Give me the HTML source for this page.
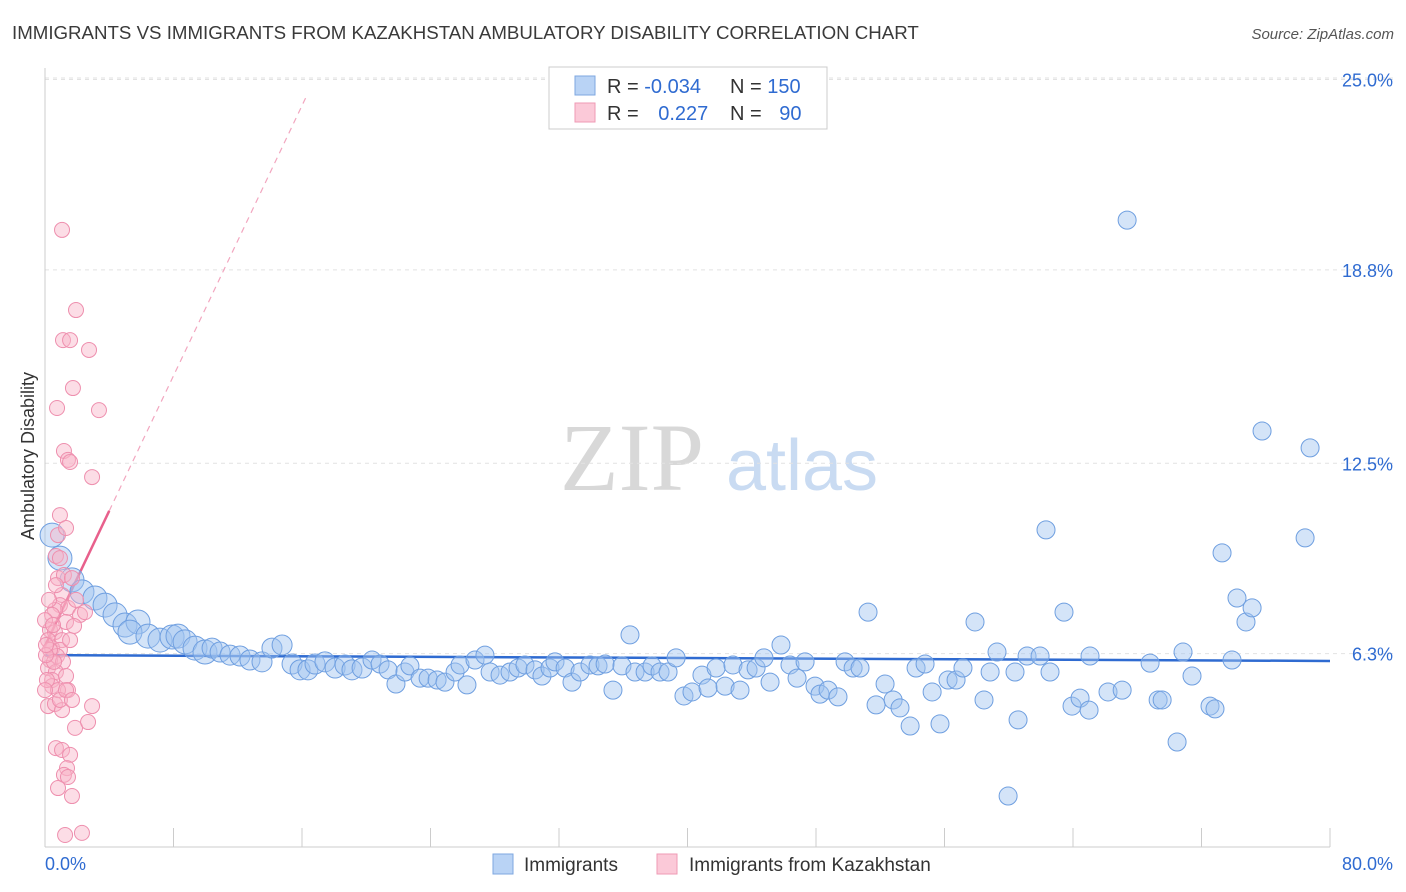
<!DOCTYPE html>
<html><head><meta charset="utf-8"><style>
body{margin:0;background:#fff;font-family:"Liberation Sans",sans-serif;}
svg{display:block}
</style></head><body>
<svg id="chart" width="1406" height="892" xmlns="http://www.w3.org/2000/svg">
<text x="12" y="39" font-size="18.7" fill="#3a3a3a" font-family="Liberation Sans, sans-serif">IMMIGRANTS VS IMMIGRANTS FROM KAZAKHSTAN AMBULATORY DISABILITY CORRELATION CHART</text>
<text x="1394" y="39" font-size="15" fill="#555" font-style="italic" text-anchor="end">Source: ZipAtlas.com</text>
<g>
<text x="632" y="490" font-size="96" fill="#d8d8d8" font-family="Liberation Serif, serif" text-anchor="middle">ZIP</text>
<text x="802" y="490" font-size="72" fill="#c9dbf2" text-anchor="middle">atlas</text>
</g>
<g id="grid"></g>
<g id="axes"></g>
<g id="trends"></g>
<g id="blue"></g>
<g id="pink"></g>
<text transform="translate(34,456) rotate(-90)" font-size="18" fill="#333" text-anchor="middle">Ambulatory Disability</text>
<g>
<rect x="549" y="67" width="278" height="62" fill="#fff" stroke="#ccc"/>
<rect x="575" y="76" width="20" height="19" fill="#b9d3f5" stroke="#7ea7e0"/>
<rect x="575" y="103" width="20" height="19" fill="#fbc9d8" stroke="#ef9ab4"/>
<text x="607" y="93" font-size="20" fill="#333">R = <tspan fill="#2f6bd1">-0.034</tspan></text>
<text x="730" y="93" font-size="20" fill="#333">N = <tspan fill="#2f6bd1">150</tspan></text>
<text x="607" y="120" font-size="20" fill="#333">R = <tspan fill="#2f6bd1" dx="14">0.227</tspan></text>
<text x="730" y="120" font-size="20" fill="#333">N = <tspan fill="#2f6bd1" dx="12">90</tspan></text>
</g>
<g>
<rect x="493" y="854" width="20" height="20" fill="#b9d3f5" stroke="#7ea7e0"/>
<text x="524" y="871" font-size="19" fill="#333">Immigrants</text>
<rect x="657" y="854" width="20" height="20" fill="#fbc9d8" stroke="#ef9ab4"/>
<text x="689" y="871" font-size="19" fill="#333">Immigrants from Kazakhstan</text>
</g>
</svg>
<script>
const yTicks=[6.3,12.5,18.8,25.0];
const yTickLabels=["6.3%","12.5%","18.8%","25.0%"];
const xTickLabels=["0.0%","80.0%"];
const blueX=[.44,.93,1.68,2.30,3.11,3.74,4.36,4.98,5.79,5.29,6.41,7.16,7.91,8.28,8.72,9.34,9.96,10.40,10.90,11.52,12.14,12.76,13.51,14.13,14.76,15.38,15.88,16.37,16.81,17.43,18.06,18.68,19.11,19.74,20.36,20.86,21.36,21.85,22.41,22.72,23.35,23.85,24.41,24.90,25.53,25.84,26.27,26.77,27.39,27.71,28.33,28.95,29.45,29.88,30.51,30.94,31.44,31.75,32.38,32.81,33.31,33.93,34.43,34.87,35.36,35.92,36.42,36.73,37.36,37.79,38.29,38.79,39.29,39.78,40.28,40.90,41.28,41.78,42.34,42.83,43.27,43.77,44.27,44.76,45.14,45.82,46.38,46.82,47.32,47.94,48.25,48.75,49.37,49.81,50.31,50.74,51.24,51.74,52.30,52.80,53.23,53.86,54.23,54.79,55.23,55.72,56.22,56.72,57.15,57.90,58.46,58.84,59.27,59.96,60.39,60.58,61.14,61.95,62.32,62.57,63.44,63.94,64.44,65.00,65.06,66.18,67.06,67.37,68.80,69.30,69.55,70.48,70.85,71.41,72.53,72.84,73.28,73.90,74.21,74.77,75.15,75.77,78.45,78.76];
const blueY=[10.16,9.41,8.70,8.31,8.11,7.88,7.56,7.23,7.33,7.00,6.87,6.74,6.84,6.87,6.68,6.48,6.35,6.48,6.35,6.25,6.22,6.09,6.03,6.48,6.58,5.96,5.77,5.77,5.96,6.03,5.83,5.93,5.77,5.83,6.09,5.96,5.77,5.31,5.70,5.90,5.50,5.50,5.44,5.37,5.70,5.93,5.28,6.09,6.25,5.70,5.60,5.70,5.83,5.93,5.77,5.57,5.83,6.03,5.83,5.37,5.70,5.93,5.90,5.96,5.11,5.90,6.91,5.70,5.70,5.90,5.70,5.70,6.16,4.92,5.05,5.60,5.18,5.83,5.24,5.93,5.11,5.77,5.83,6.16,5.37,6.58,5.93,5.50,6.03,5.24,4.98,5.11,4.89,6.03,5.83,5.83,7.65,4.63,5.31,4.79,4.53,3.94,5.83,5.96,5.05,4.01,5.44,5.44,5.83,7.33,4.79,5.70,6.35,1.66,5.70,4.14,6.22,6.22,10.33,5.70,7.65,4.59,4.85,4.46,6.22,5.05,5.11,20.42,5.99,4.79,4.79,3.42,6.35,5.57,4.59,4.50,9.58,6.09,8.11,7.33,7.79,13.55,10.07,13.00];
const pinkX=[1.06,1.93,1.12,1.56,2.74,1.74,.75,3.36,1.18,1.43,1.56,2.93,.93,.81,.68,.81,1.18,1.68,1.06,.93,1.43,.62,.44,2.18,1.31,1.81,.31,.62,.19,1.06,.44,.93,.75,.31,1.12,.19,.68,.44,1.31,1.43,.44,.19,.62,1.06,2.93,1.87,2.68,.68,1.06,1.56,1.37,1.18,1.43,.81,1.68,1.25,2.30,.31,.56,.06,.12,.81,.93,0,.06,.5,.25,0,.93,1.31,.68,1.56,1.93,2.49,1.31,1.68];
const pinkY=[20.10,17.49,16.51,16.51,16.19,14.95,14.30,14.23,12.90,12.61,12.54,12.05,10.81,10.16,9.48,8.76,8.86,8.76,8.21,7.88,7.79,7.72,7.56,7.56,7.33,7.20,7.07,7.00,6.74,6.74,6.48,6.42,6.22,6.09,6.03,5.83,5.70,5.44,5.57,5.11,5.24,4.59,4.66,4.46,4.59,3.88,4.07,3.22,3.16,3.00,2.57,2.35,2.28,1.92,1.66,.39,.46,6.42,6.03,6.25,5.44,5.11,4.79,7.39,6.58,7.23,8.05,5.11,9.41,10.39,8.53,6.74,8.05,7.65,5.11,4.79];
const blueTrend=[6.25,6.06];
const pinkTrend={intercept:6.55,slope:1.1,solidEnd:4,dashEnd:16.3};
const NS="http://www.w3.org/2000/svg";
const X=v=>45+v/80*1285, Y=v=>847-v*30.7;
function mk(tag,parent,attrs){const e=document.createElementNS(NS,tag);for(const k in attrs)e.setAttribute(k,attrs[k]);parent.appendChild(e);return e;}
const grid=document.getElementById('grid'),axes=document.getElementById('axes');
yTicks.forEach((t,i)=>{
 const l=mk('line',grid,{x1:45,x2:1394,y1:Y(t),y2:Y(t),stroke:'#e2e2e2','stroke-dasharray':'4,4'});
 
 
 const tx=mk('text',axes,{x:1393,y:Y(t)+7,'font-size':18,fill:'#2f6bd1','text-anchor':'end'});
 tx.textContent=yTickLabels[i];
 
 
});
const topLine=mk('line',grid,{x1:45,x2:1394,y1:78,y2:78,stroke:'#e2e2e2','stroke-dasharray':'4,4'});


mk('line',axes,{x1:45,x2:45,y1:68,y2:847,stroke:'#ccc'});
mk('line',axes,{x1:45,x2:1330,y1:847,y2:847,stroke:'#ccc'});
for(let i=0;i<=10;i++){const t=mk('line',axes,{x1:X(i*8),x2:X(i*8),y1:828,y2:847,stroke:'#ccc'});
 
 }
const xl0=mk('text',axes,{x:45,y:870,'font-size':18,fill:'#2f6bd1'});xl0.textContent=xTickLabels[0];


const xl1=mk('text',axes,{x:1393,y:870,'font-size':18,fill:'#2f6bd1','text-anchor':'end'});xl1.textContent=xTickLabels[1];


const bg=document.getElementById('blue');
blueX.forEach((x,i)=>{const r=x<10?12:(x<20?10:9);
 const c=mk('circle',bg,{cx:X(x),cy:Y(blueY[i]),r:r,fill:'rgba(160,195,240,0.45)',stroke:'#6f9fe0','stroke-width':1});
 
 });
const pg=document.getElementById('pink');
pinkX.forEach((x,i)=>{const c=mk('circle',pg,{cx:X(x),cy:Y(pinkY[i]),r:7.5,fill:'rgba(248,180,200,0.45)',stroke:'#ee8fae','stroke-width':1});
 
 });
const tr=document.getElementById('trends');
const bt=mk('line',tr,{x1:X(0),y1:Y(blueTrend[0]),x2:X(80),y2:Y(blueTrend[1]),stroke:'#2f6bd1','stroke-width':2.5});


const pf=v=>pinkTrend.intercept+pinkTrend.slope*v;
const pd=mk('line',tr,{x1:X(pinkTrend.solidEnd),y1:Y(pf(pinkTrend.solidEnd)),x2:X(pinkTrend.dashEnd),y2:Y(pf(pinkTrend.dashEnd)),stroke:'#f2a6bf','stroke-width':1.2,'stroke-dasharray':'6,5'});


const ps=mk('line',tr,{x1:X(0),y1:Y(pf(0)),x2:X(pinkTrend.solidEnd),y2:Y(pf(pinkTrend.solidEnd)),stroke:'#e8608c','stroke-width':2.5});


</script>
</body></html>
